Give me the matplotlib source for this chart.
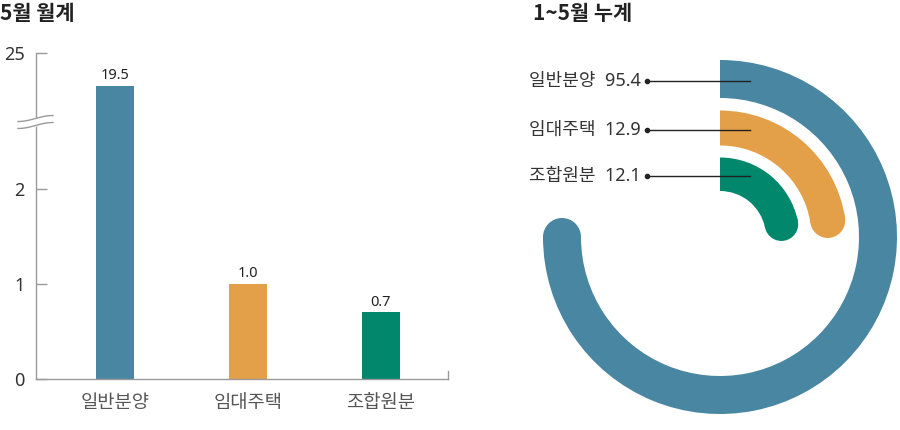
import numpy as np
import matplotlib.pyplot as plt
from matplotlib.patches import Wedge, Circle
from matplotlib.scale import FuncScale

plt.rcParams['font.family'] = ['Noto Sans', 'Noto Sans CJK KR', 'DejaVu Sans']

categories = ['일반분양', '임대주택', '조합원분']
monthly = [19.5, 1.0, 0.7]
cumulative = [95.4, 12.9, 12.1]
yticks = [0, 1, 2, 25]
colors = ['#4886a2', '#e3a048', '#00876c']

txt = '#333333'
axis_col = '#9a9a9a'

# broken y axis: values above 2 are squeezed
k = 0.0622
def fwd(v):
    v = np.asarray(v, dtype=float)
    return np.where(v <= 2, v, 2 + (v - 2) * k)

def inv(u):
    u = np.asarray(u, dtype=float)
    return np.where(u <= 2, u, 2 + (u - 2) / k)

fig = plt.figure(figsize=(9, 4.3), dpi=100)

# ---- left: monthly bars
W, H = 900, 430
ax1 = fig.add_axes([36 / W, 51 / H, 412 / W, 326 / H])
ax1.set_yscale(FuncScale(ax1, (fwd, inv)))
x = np.arange(len(categories))
ax1.bar(x, monthly, width=0.29, color=colors, zorder=2)
for xi, v in zip(x, monthly):
    ax1.annotate(f'{v:.1f}', (xi, v), xytext=(0, 2), textcoords='offset points',
                 ha='center', va='bottom', fontsize=10.5, color='#222222')
ax1.set_ylim(0, 25)
ax1.set_xlim(-0.594, 2.504)
ax1.set_yticks(yticks)
ax1.set_yticklabels([str(t) for t in yticks])
ax1.set_xticks(x)
ax1.set_xticklabels(categories)
ax1.tick_params(axis='y', direction='in', length=8, width=1, color=axis_col,
                labelsize=13, labelcolor=txt, pad=8)
ax1.tick_params(axis='x', length=0, labelsize=13.5, labelcolor='#555555', pad=11)
for s in ['top', 'right']:
    ax1.spines[s].set_visible(False)
for s in ['left', 'bottom']:
    ax1.spines[s].set_color(axis_col)
    ax1.spines[s].set_linewidth(1)
ax1.plot([1, 1], [0, 8 / 326], transform=ax1.transAxes, color=axis_col,
         lw=1, clip_on=False)

# break marks on the y axis
t = np.linspace(0, 1, 50)
bx = (-18 + t * 35) / 412
yc = (379 - 122) / 326
wave = -np.cos(np.pi * t) * 3 / 326
up = yc + 3.5 / 326 + wave
lo = yc - 3.5 / 326 + wave
ax1.fill_between(bx, lo, up, color='white', transform=ax1.transAxes,
                 clip_on=False, zorder=3)
ax1.plot(bx, up, color=axis_col, lw=1, transform=ax1.transAxes, clip_on=False, zorder=4)
ax1.plot(bx, lo, color=axis_col, lw=1, transform=ax1.transAxes, clip_on=False, zorder=4)

# ---- right: cumulative arcs
ax2 = fig.add_axes([520 / W, 0, 380 / W, 1])
ax2.set_xlim(-200, 180)
ax2.set_ylim(-193, 237)
ax2.axis('off')

r_outer = [177, 126.5, 79.5]
thick = [38, 35, 33.5]
vmax = max(cumulative)
for v, c, ro, th, cat in zip(cumulative, colors, r_outer, thick, categories):
    sweep = 270 * (v / vmax) ** 0.6
    ax2.add_patch(Wedge((0, 0), ro, 90 - sweep, 90, width=th, color=c, lw=0))
    rm = ro - th / 2
    a = np.deg2rad(90 - sweep)
    ax2.add_patch(Circle((rm * np.cos(a), rm * np.sin(a)), th / 2, color=c, lw=0))
    ax2.plot([-73, 30], [rm - 2, rm - 2], color='#222222', lw=1, zorder=5)
    ax2.plot(-73, rm - 2, 'o', ms=3, color='#222222', zorder=5)
    ax2.text(-79, rm - 2, f'{cat}  {v}', ha='right', va='center',
             fontsize=13, color=txt)

title_font = ['Noto Sans CJK KR', 'DejaVu Sans']
fig.text(0 / W, 1 - 13 / H, '5월 월계', fontsize=15, fontweight='bold',
         family=title_font, color='#222222', ha='left', va='center')
fig.text(533 / W, 1 - 13 / H, '1~5월 누계', fontsize=15, fontweight='bold',
         family=title_font, color='#222222', ha='left', va='center')

fig.savefig('out.png', dpi=100)
